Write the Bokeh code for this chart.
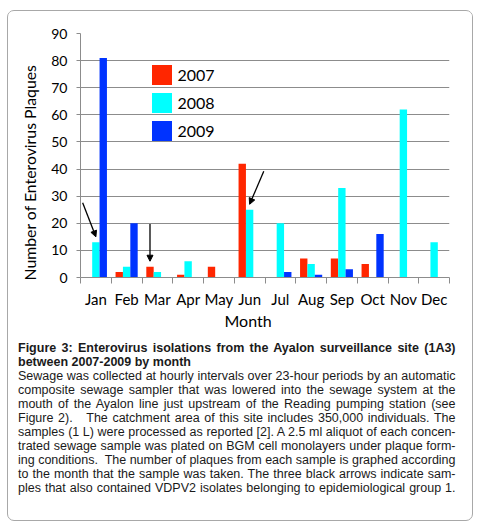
from bokeh.plotting import figure
from bokeh.models import Range1d, FixedTicker, Arrow, NormalHead, Title, Div
from bokeh.layouts import column
from bokeh.embed import file_html
from bokeh.resources import INLINE

months = ["Jan", "Feb", "Mar", "Apr", "May", "Jun",
          "Jul", "Aug", "Sep", "Oct", "Nov", "Dec"]
years = ["2007", "2008", "2009"]
plaques_2007 = [0, 2, 4, 1, 4, 42, 0, 7, 7, 5, 0, 0]
plaques_2008 = [13, 4, 2, 6, 0, 25, 20, 5, 33, 0, 62, 13]
plaques_2009 = [81, 20, 0, 0, 0, 0, 2, 1, 3, 16, 0, 0]
y_ticks = [0, 10, 20, 30, 40, 50, 60, 70, 80, 90]

# samples with VDPV2 isolates (black arrows)
arrow_months = ["Jan", "Mar", "Jun"]
arrow_years = ["2008", "2007", "2008"]

caption_title = ["Figure 3: Enterovirus isolations from the Ayalon surveillance site (1A3)",
                 "between 2007-2009 by month"]
caption_body = [
    "Sewage was collected at hourly intervals over 23-hour periods by an automatic",
    "composite sewage sampler that was lowered into the sewage system at the",
    "mouth of the Ayalon line just upstream of the Reading pumping station (see",
    "Figure 2).&nbsp;&nbsp; The catchment area of this site includes 350,000 individuals. The",
    "samples (1 L) were processed as reported [2]. A 2.5 ml aliquot of each concen-",
    "trated sewage sample was plated on BGM cell monolayers under plaque form-",
    "ing conditions.&nbsp; The number of plaques from each sample is graphed according",
    "to the month that the sample was taken. The three black arrows indicate sam-",
    "ples that also contained VDPV2 isolates belonging to epidemiological group 1.",
]

colors = {"2007": "#ff2600", "2008": "#00ffff", "2009": "#0033ff"}
series = {"2007": plaques_2007, "2008": plaques_2008, "2009": plaques_2009}
bar_w = 0.24
offsets = {"2007": -bar_w, "2008": 0.0, "2009": bar_w}
grey = "#8c8c8c"
chart_font = "Lato"

p = figure(width=464, height=330, output_backend="svg", toolbar_location=None,
           x_range=Range1d(0, 12), y_range=Range1d(0, 90),
           min_border_left=71, min_border_right=23, min_border_top=22,
           min_border_bottom=64)
p.outline_line_color = None
p.background_fill_color = "white"
p.border_fill_color = "white"

for yr in years:
    xs = [i + 0.5 + offsets[yr] for i in range(len(months))]
    p.vbar(x=xs, top=series[yr], width=bar_w, bottom=0,
           fill_color=colors[yr], line_color=None, legend_label=yr)

# axes
p.xgrid.grid_line_color = None
p.ygrid.grid_line_color = grey
p.ygrid.ticker = FixedTicker(ticks=y_ticks)

p.yaxis.ticker = FixedTicker(ticks=y_ticks)
p.yaxis.axis_line_color = grey
p.yaxis.major_tick_line_color = grey
p.yaxis.major_tick_out = 4
p.yaxis.major_tick_in = 0
p.yaxis.minor_tick_line_color = None
p.yaxis.major_label_standoff = 9
p.yaxis.major_label_text_font = chart_font
p.yaxis.major_label_text_font_size = "14px"
p.yaxis.major_label_text_color = "black"

p.xaxis.ticker = FixedTicker(ticks=[i + 0.5 for i in range(len(months))],
                             minor_ticks=list(range(len(months) + 1)))
p.xaxis.major_label_overrides = {i + 0.5: m for i, m in enumerate(months)}
p.xaxis.axis_line_color = grey
p.xaxis.major_tick_out = 0
p.xaxis.major_tick_in = 0
p.xaxis.major_tick_line_color = None
p.xaxis.minor_tick_line_color = grey
p.xaxis.minor_tick_out = 6
p.xaxis.minor_tick_in = 0
p.xaxis.major_label_standoff = 6
p.xaxis.major_label_text_font = chart_font
p.xaxis.major_label_text_font_size = "15px"
p.xaxis.major_label_text_color = "black"

# axis titles (as side titles so they can sit off-centre like the original)
p.add_layout(Title(text="Number of Enterovirus Plaques", align="left", offset=-3,
                   vertical_align="bottom", standoff=19, text_font=chart_font,
                   text_font_size="15.8px", text_font_style="normal",
                   text_color="black"), "left")
p.add_layout(Title(text="Month", align="left", offset=144, vertical_align="top",
                   standoff=0, text_font=chart_font, text_font_size="16px",
                   text_font_style="normal", text_color="black"), "below")

# legend
lg = p.legend[0]
lg.location = (68.5, 134.5)
lg.orientation = "vertical"
lg.padding = 0
lg.margin = 0
lg.spacing = 3
lg.glyph_width = 25
lg.glyph_height = 25
lg.label_standoff = 4
lg.label_text_font = chart_font
lg.label_text_font_size = "16px"
lg.label_text_color = "black"
lg.border_line_color = None
lg.background_fill_alpha = 0

# arrows pointing to VDPV2 samples
arrow_dx = [-0.43, 0.0, 0.46]
arrow_dy = [12.6, 13.7, 12.2]
for m, yr, dx, dy in zip(arrow_months, arrow_years, arrow_dx, arrow_dy):
    i = months.index(m)
    tip_x = i + 0.5 + offsets[yr]
    tip_y = series[yr][i] + 2.0
    p.add_layout(Arrow(x_start=tip_x + dx, y_start=tip_y + dy, x_end=tip_x, y_end=tip_y,
                       line_width=1.3, line_color="black",
                       end=NormalHead(size=6, fill_color="black", line_color="black",
                                      line_width=1)))

# caption, one block per printed line so the justified breaks match
just = "text-align:justify;text-align-last:justify;"
html = '<div style="font-weight:bold;%s">%s</div>' % (just, caption_title[0])
html += '<div style="font-weight:bold;">%s</div>' % caption_title[1]
for t in caption_body:
    html += '<div style="%s">%s</div>' % (just, t)
cap = Div(text=html, width=443, height=179, margin=(0, 0, 0, 10),
          styles={"font-family": "Liberation Sans", "font-size": "12.5px",
                  "line-height": "14px", "color": "#1a1a1a"})

layout = column(p, cap, margin=(10, 0, 0, 7),
                styles={"border": "1.5px solid #a8a8a8", "border-radius": "7px",
                        "overflow": "hidden", "background": "white"})

open("out.html", "w").write(file_html(layout, INLINE))
